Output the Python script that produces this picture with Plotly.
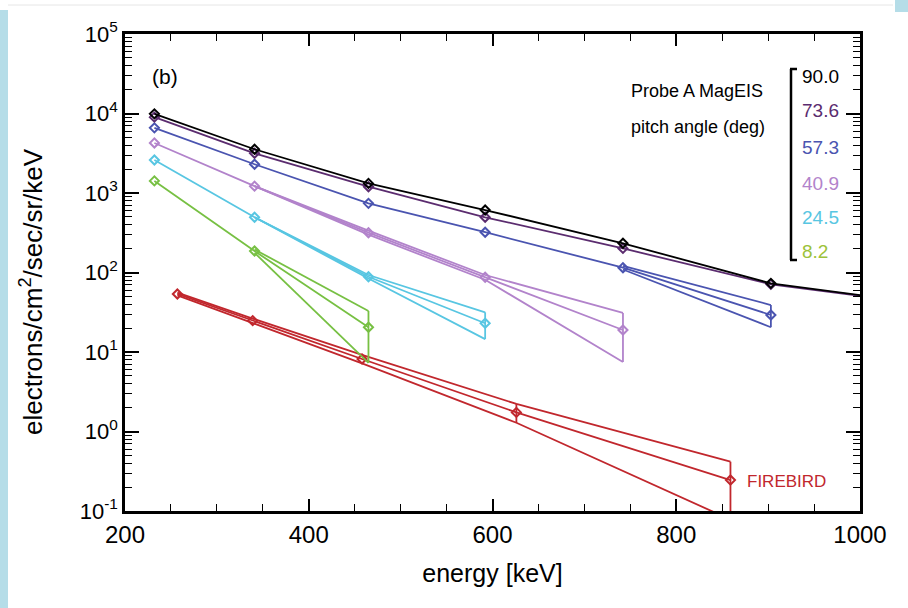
import plotly.graph_objects as go

# ---------------- data ----------------
E_MAGEIS = [232, 341, 465, 592, 742, 903, 1079]   # keV
E_FIREBIRD = [257, 339, 458, 626, 859]

flux_90 = [9.9e3, 3.55e3, 1.32e3, 611, 233, 73, 39.5]
flux_736 = [9.0e3, 3.16e3, 1.20e3, 495, 201, 71, 39.0]

flux_573 = [6.6e3, 2.3e3, 741, 321, 115, 29.2]
up_573 = [None, None, None, None, 121, 39]
lo_573 = [None, None, None, None, 109, 20.5]

flux_409 = [4.26e3, 1.22e3, 317, 87, 18.9]
up_409 = [None, 1.22e3, 336, 93, 31]
lo_409 = [None, 1.22e3, 299, 81, 7.5]

flux_245 = [2.6e3, 495, 88.5, 23]
up_245 = [None, 495, 93, 31.6]
lo_245 = [None, 495, 84, 14.5]

flux_82 = [1.42e3, 186, 20.5]
up_82 = [None, 195, 32.8]
lo_82 = [None, 177, 7.3]

flux_fb = [53.7, 24.8, 8.17, 1.74, 0.245]
up_fb = [55.8, 26.3, 9.2, 2.22, 0.417]
lo_fb = [51.6, 23.3, 7.2, 1.29, 0.078]

pitch_labels = ["90.0", "73.6", "57.3", "40.9", "24.5", "8.2"]
y_tickvals = [1e-1, 1e0, 1e1, 1e2, 1e3, 1e4, 1e5]
y_ticktext = ["10<sup>-1</sup>", "10<sup>0</sup>", "10<sup>1</sup>", "10<sup>2</sup>",
              "10<sup>3</sup>", "10<sup>4</sup>", "10<sup>5</sup>"]
x_tickvals = [200, 400, 600, 800, 1000]

# ---------------- style ----------------
C_BLACK = "#000000"
C_PURPLE = "#5b2c6f"
C_BLUE = "#4a54b0"
C_LILAC = "#b283cb"
C_CYAN = "#58c6e2"
C_GREEN = "#77c043"
C_GREEN_TXT = "#9cc23a"
C_RED = "#c1272d"
LW = 1.8
SANS = "Liberation Sans, Arial, sans-serif"

fig = go.Figure()


def center(x, y, color):
    xs = x[:len(y)]
    fig.add_trace(go.Scatter(
        x=xs, y=y, mode="lines+markers",
        line=dict(color=color, width=LW),
        marker=dict(symbol="diamond-open", size=7, color=color, line=dict(width=2, color=color)),
        showlegend=False, hoverinfo="skip"))


def side(x, y, color):
    xs = x[:len(y)]
    fig.add_trace(go.Scatter(x=xs, y=y, mode="lines", line=dict(color=color, width=LW),
                             showlegend=False, hoverinfo="skip", connectgaps=False))


def vbar(xv, lo, hi, color):
    fig.add_trace(go.Scatter(x=[xv, xv], y=[lo, hi], mode="lines", line=dict(color=color, width=LW),
                             showlegend=False, hoverinfo="skip"))


# FIREBIRD
side(E_FIREBIRD, up_fb, C_RED)
side(E_FIREBIRD, lo_fb, C_RED)
center(E_FIREBIRD, flux_fb, C_RED)
vbar(E_FIREBIRD[3], lo_fb[3], up_fb[3], C_RED)
vbar(E_FIREBIRD[4], lo_fb[4], up_fb[4], C_RED)

# 8.2 deg
side(E_MAGEIS, up_82, C_GREEN)
side(E_MAGEIS, lo_82, C_GREEN)
center(E_MAGEIS, flux_82, C_GREEN)
vbar(E_MAGEIS[len(flux_82) - 1], lo_82[-1], up_82[-1], C_GREEN)

# 24.5 deg
side(E_MAGEIS, up_245, C_CYAN)
side(E_MAGEIS, lo_245, C_CYAN)
center(E_MAGEIS, flux_245, C_CYAN)
vbar(E_MAGEIS[len(flux_245) - 1], lo_245[-1], up_245[-1], C_CYAN)

# 40.9 deg
side(E_MAGEIS, up_409, C_LILAC)
side(E_MAGEIS, lo_409, C_LILAC)
center(E_MAGEIS, flux_409, C_LILAC)
vbar(E_MAGEIS[len(flux_409) - 1], lo_409[-1], up_409[-1], C_LILAC)

# 57.3 deg
side(E_MAGEIS, up_573, C_BLUE)
side(E_MAGEIS, lo_573, C_BLUE)
center(E_MAGEIS, flux_573, C_BLUE)
vbar(E_MAGEIS[len(flux_573) - 1], lo_573[-1], up_573[-1], C_BLUE)

# 73.6 and 90.0 deg
center(E_MAGEIS, flux_736, C_PURPLE)
center(E_MAGEIS, flux_90, C_BLACK)

# ---------------- layout ----------------
L, R, T, B = 125, 48, 34, 97
W, H = 908, 608
PW, PH = W - L - R, H - T - B


def px(xp):
    return (xp - L) / PW


def py(yp):
    return (H - B - yp) / PH


annotations = []
annotations.append(dict(text="(b)", x=px(150), y=py(76), xref="paper", yref="paper",
                        xanchor="left", yanchor="middle", showarrow=False,
                        font=dict(family=SANS, size=21, color="black")))
annotations.append(dict(text="Probe A MagEIS", x=px(629), y=py(91), xref="paper", yref="paper",
                        xanchor="left", yanchor="middle", showarrow=False,
                        font=dict(family=SANS, size=18, color="black")))
annotations.append(dict(text="pitch angle (deg)", x=px(629), y=py(127), xref="paper", yref="paper",
                        xanchor="left", yanchor="middle", showarrow=False,
                        font=dict(family=SANS, size=18, color="black")))
label_colors = [C_BLACK, C_PURPLE, C_BLUE, C_LILAC, C_CYAN, C_GREEN_TXT]
label_y = [76, 110, 147, 183, 218, 251]
for t, c, yy in zip(pitch_labels, label_colors, label_y):
    annotations.append(dict(text=t, x=px(800), y=py(yy), xref="paper", yref="paper",
                            xanchor="left", yanchor="middle", showarrow=False,
                            font=dict(family=SANS, size=19, color=c)))
annotations.append(dict(text="FIREBIRD", x=px(745), y=py(481), xref="paper", yref="paper",
                        xanchor="left", yanchor="middle", showarrow=False,
                        font=dict(family=SANS, size=17, color=C_RED)))
annotations.append(dict(text="electrons/cm<sup>2</sup>/sec/sr/keV", x=px(31), y=py(292),
                        xref="paper", yref="paper", textangle=-90,
                        xanchor="center", yanchor="middle", showarrow=False,
                        font=dict(family=SANS, size=26, color="black")))

shapes = [
    # bracket
    dict(type="line", xref="paper", yref="paper", x0=px(791), x1=px(791), y0=py(69), y1=py(260),
         line=dict(color="black", width=2.5)),
    dict(type="line", xref="paper", yref="paper", x0=px(790), x1=px(797), y0=py(69), y1=py(69),
         line=dict(color="black", width=2.5)),
    dict(type="line", xref="paper", yref="paper", x0=px(790), x1=px(797), y0=py(260), y1=py(260),
         line=dict(color="black", width=2.5)),
    # page frame decoration
    dict(type="rect", xref="paper", yref="paper", x0=px(0), x1=px(8), y0=py(608), y1=py(10),
         fillcolor="#b5dde8", line=dict(width=0), layer="below"),
    dict(type="rect", xref="paper", yref="paper", x0=px(895), x1=px(908), y0=py(12), y1=py(0),
         fillcolor="#b5dde8", line=dict(width=0), layer="below"),
    dict(type="line", xref="paper", yref="paper", x0=px(8), x1=px(893), y0=py(5), y1=py(5),
         line=dict(color="#e6e6e6", width=1), layer="below"),
]

fig.update_layout(
    width=W, height=H,
    margin=dict(l=L, r=R, t=T, b=B),
    paper_bgcolor="white", plot_bgcolor="white",
    showlegend=False,
    annotations=annotations,
    shapes=shapes,
    xaxis=dict(
        range=[200, 1000], tickvals=x_tickvals, ticks="inside", ticklen=12, tickwidth=1.5,
        tickcolor="black", showline=True, linecolor="black", linewidth=2.5, mirror="allticks",
        showgrid=False, zeroline=False,
        tickfont=dict(family=SANS, size=24, color="black"),
        minor=dict(dtick=50, ticks="inside", ticklen=7, tickwidth=1.2, tickcolor="black", showgrid=False),
        title=dict(text="energy [keV]", font=dict(family=SANS, size=25, color="black"), standoff=18),
    ),
    yaxis=dict(
        type="log", range=[-1, 5], tickvals=y_tickvals, ticktext=y_ticktext,
        ticks="inside", ticklen=14, tickwidth=1.5, tickcolor="black",
        showline=True, linecolor="black", linewidth=2.5, mirror="allticks",
        showgrid=False, zeroline=False,
        tickfont=dict(family=SANS, size=22, color="black"),
        minor=dict(dtick="D1", ticks="inside", ticklen=7, tickwidth=1.2, tickcolor="black", showgrid=False),
    ),
)

fig.write_html("out.html")
